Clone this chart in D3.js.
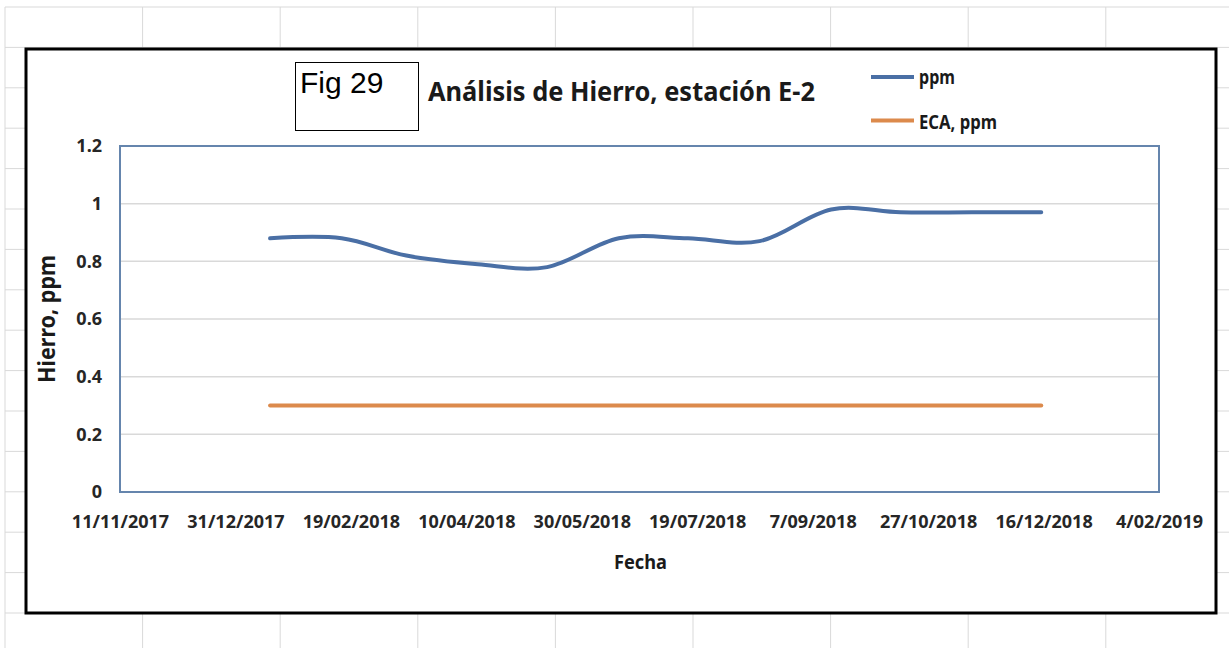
<!DOCTYPE html>
<html>
<head>
<meta charset="utf-8">
<script src="https://cdn.jsdelivr.net/npm/d3@7"></script>
<style>
  body { margin: 0; background: #fff; }
  svg { display: block; }
</style>
</head>
<body>
<div id="chart"></div>
<script>
// Fechas de muestreo (una por mes)
const fechas = [
  "15/01/2018", "15/02/2018", "15/03/2018", "15/04/2018", "15/05/2018", "15/06/2018",
  "15/07/2018", "15/08/2018", "15/09/2018", "15/10/2018", "15/11/2018", "15/12/2018"
];
// Hierro medido, ppm
const ppm = [0.88, 0.88, 0.82, 0.79, 0.78, 0.88, 0.88, 0.87, 0.98, 0.97, 0.97, 0.97];
// Estandar ECA, ppm
const ecaPpm = [0.3, 0.3, 0.3, 0.3, 0.3, 0.3, 0.3, 0.3, 0.3, 0.3, 0.3, 0.3];

const xTicks = [
  "11/11/2017", "31/12/2017", "19/02/2018", "10/04/2018", "30/05/2018",
  "19/07/2018", "7/09/2018", "27/10/2018", "16/12/2018", "4/02/2019"
];
const yTicks = [0, 0.2, 0.4, 0.6, 0.8, 1, 1.2];

const W = 1229, H = 648;
const parse = d3.timeParse("%d/%m/%Y");
const fmt = d3.timeFormat("%-d/%m/%Y");
const font = "'Noto Sans', sans-serif";

const svg = d3.select("#chart").append("svg")
  .attr("width", W)
  .attr("height", H);

// Fondo tipo hoja de calculo
const grid = svg.append("g").attr("stroke", "#d9d9d9").attr("stroke-width", 1);
for (let gx = 5; gx < W; gx += 137.6) {
  grid.append("line").attr("x1", gx).attr("x2", gx).attr("y1", 7).attr("y2", H);
}
for (let gy = 7; gy < H; gy += 40.4) {
  grid.append("line").attr("x1", 5).attr("x2", W).attr("y1", gy).attr("y2", gy);
}

// Area del grafico
svg.append("rect")
  .attr("x", 26).attr("y", 49)
  .attr("width", 1190).attr("height", 564)
  .attr("fill", "#fff")
  .attr("stroke", "#000")
  .attr("stroke-width", 3);

const plot = { left: 120, right: 1159, top: 146, bottom: 492 };

const x = d3.scaleTime()
  .domain([parse(xTicks[0]), parse(xTicks[xTicks.length - 1])])
  .range([plot.left, plot.right]);

const y = d3.scaleLinear()
  .domain([0, 1.2])
  .range([plot.bottom, plot.top]);

// Lineas de cuadricula
svg.append("g")
  .selectAll("line")
  .data(yTicks)
  .join("line")
  .attr("x1", plot.left).attr("x2", plot.right)
  .attr("y1", d => y(d)).attr("y2", d => y(d))
  .attr("stroke", "#d9d9d9")
  .attr("stroke-width", 1.5);

// Borde del area de trazado
svg.append("rect")
  .attr("x", plot.left).attr("y", plot.top)
  .attr("width", plot.right - plot.left)
  .attr("height", plot.bottom - plot.top)
  .attr("fill", "none")
  .attr("stroke", "#6585ad")
  .attr("stroke-width", 2);

// Eje X
const xAxis = svg.append("g")
  .attr("transform", `translate(0,${plot.bottom})`)
  .call(d3.axisBottom(x).tickValues(xTicks.map(parse)).tickFormat(fmt).tickSize(0));
xAxis.select(".domain").remove();
xAxis.selectAll("text")
  .attr("y", 36)
  .attr("dy", null)
  .style("font-family", font)
  .style("font-size", "18px")
  .style("font-weight", "bold")
  .style("fill", "#262626");

// Eje Y
const yAxis = svg.append("g")
  .attr("transform", `translate(${plot.left},0)`)
  .call(d3.axisLeft(y).tickValues(yTicks).tickFormat(d => String(d)).tickSize(0).tickPadding(18));
yAxis.select(".domain").remove();
yAxis.selectAll("text")
  .style("font-family", font)
  .style("font-size", "18px")
  .style("font-weight", "bold")
  .style("fill", "#262626");

// Series
const data = fechas.map((f, i) => ({ date: parse(f), ppm: ppm[i], eca: ecaPpm[i] }));

const lineFor = key => d3.line()
  .x(d => x(d.date))
  .y(d => y(d[key]))
  .curve(d3.curveCardinal.tension(0));

svg.append("path")
  .datum(data)
  .attr("d", lineFor("eca"))
  .attr("fill", "none")
  .attr("stroke", "#dc8a4c")
  .attr("stroke-width", 4)
  .attr("stroke-linecap", "round");

svg.append("path")
  .datum(data)
  .attr("d", lineFor("ppm"))
  .attr("fill", "none")
  .attr("stroke", "#4a6fa5")
  .attr("stroke-width", 4)
  .attr("stroke-linecap", "round");

// Titulos de ejes
svg.append("text")
  .attr("transform", "translate(45,319) rotate(-90)")
  .attr("text-anchor", "middle")
  .attr("dominant-baseline", "central")
  .attr("textLength", 128)
  .attr("lengthAdjust", "spacingAndGlyphs")
  .style("font-family", font)
  .style("font-size", "24px")
  .style("font-weight", "bold")
  .style("fill", "#1a1a1a")
  .text("Hierro, ppm");

svg.append("text")
  .attr("x", 640.5).attr("y", 569)
  .attr("text-anchor", "middle")
  .attr("textLength", 53)
  .attr("lengthAdjust", "spacingAndGlyphs")
  .style("font-family", font)
  .style("font-size", "20px")
  .style("font-weight", "bold")
  .style("fill", "#1a1a1a")
  .text("Fecha");

// Titulo
svg.append("rect")
  .attr("x", 295.5).attr("y", 62.5)
  .attr("width", 123).attr("height", 68)
  .attr("fill", "#fff")
  .attr("stroke", "#000")
  .attr("stroke-width", 1);

svg.append("text")
  .attr("x", 300).attr("y", 93)
  .style("font-family", "'Liberation Sans', Arial, sans-serif")
  .style("font-size", "30px")
  .style("fill", "#000")
  .text("Fig 29");

svg.append("text")
  .attr("x", 428).attr("y", 101)
  .attr("textLength", 387)
  .attr("lengthAdjust", "spacingAndGlyphs")
  .style("font-family", font)
  .style("font-size", "27px")
  .style("font-weight", "bold")
  .style("fill", "#1a1a1a")
  .text("Análisis de Hierro, estación E-2");

// Leyenda
const legendItems = [
  { label: "ppm", color: "#4a6fa5", y: 77, w: 36, base: 84 },
  { label: "ECA, ppm", color: "#dc8a4c", y: 120.5, w: 78, base: 129 }
];
const legend = svg.append("g");
legend.selectAll("line")
  .data(legendItems)
  .join("line")
  .attr("x1", 871).attr("x2", 914)
  .attr("y1", d => d.y).attr("y2", d => d.y)
  .attr("stroke", d => d.color)
  .attr("stroke-width", 4);
legend.selectAll("text")
  .data(legendItems)
  .join("text")
  .attr("x", 919)
  .attr("y", d => d.base)
  .attr("textLength", d => d.w)
  .attr("lengthAdjust", "spacingAndGlyphs")
  .style("font-family", font)
  .style("font-size", "19px")
  .style("font-weight", "bold")
  .style("fill", "#1a1a1a")
  .text(d => d.label);
</script>
</body>
</html>
